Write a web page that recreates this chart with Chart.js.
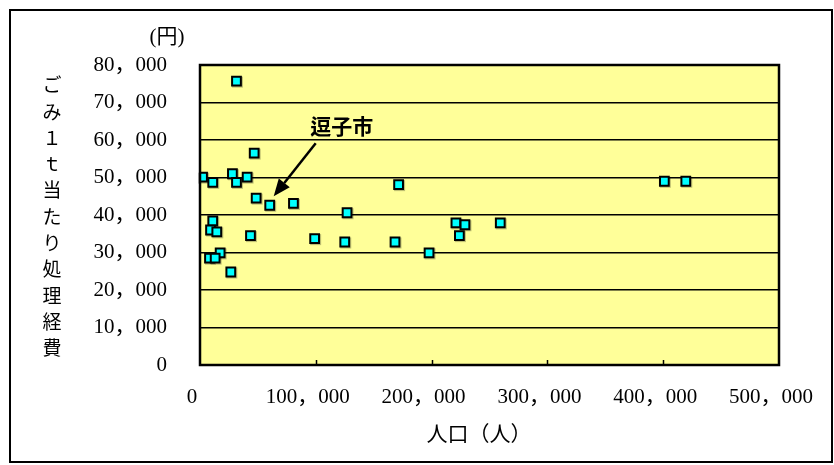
<!DOCTYPE html>
<html>
<head>
<meta charset="utf-8">
<script src="https://cdn.jsdelivr.net/npm/chart.js@4"></script>
<style>
  html, body { margin: 0; padding: 0; background: #fff; }
  #wrap { position: relative; width: 834px; height: 465px; }
</style>
</head>
<body>
<div id="wrap"><canvas id="c" width="834" height="465"></canvas></div>
<script>
// ---- data ----
const population = [31500, 46800, 2200, 11000, 28000, 31500, 40700, 48500, 60200, 80700,
                    127000, 11000, 9100, 14500, 43600, 99000, 125000, 17400, 8200, 13100,
                    26600, 171500, 221000, 228800, 259300, 224000, 168400, 197800, 401000, 419500];
const costPerTon = [75700, 56500, 50100, 48700, 51000, 48700, 50100, 44500, 42600, 43100,
                    40600, 38400, 36000, 35500, 34500, 33700, 32800, 29900, 28500, 28500,
                    24800, 48100, 37900, 37400, 37900, 34500, 32800, 29900, 49000, 49000];
const highlightIndex = 8;            // 逗子市
const highlightLabel = '逗子市';
const xTickValues = [0, 100000, 200000, 300000, 400000, 500000];
const yTickValues = [0, 10000, 20000, 30000, 40000, 50000, 60000, 70000, 80000];
const yTitleChars = ['ご','み','１','ｔ','当','た','り','処','理','経','費'];
const yUnit = '(円)';
const xTitle = '人口（人）';

const fmt = v => {
  const s = String(v);
  return s.replace(/\B(?=(\d{3})+(?!\d))/g, '，');
};

const points = population.map((p, i) => ({ x: p, y: costPerTon[i] }));
const tickFont = { family: "'Liberation Serif', 'Noto Sans CJK JP'", size: 21 };

const decor = {
  id: 'decor',
  beforeDraw(chart) {
    const { ctx, chartArea: a } = chart;
    ctx.save();
    ctx.fillStyle = '#fff';
    ctx.fillRect(0, 0, chart.width, chart.height);
    ctx.fillStyle = '#FFFF99';
    ctx.fillRect(a.left, a.top, a.right - a.left, a.bottom - a.top);
    ctx.restore();
  },
  beforeDatasetsDraw(chart) {
    // soft shadow beneath markers
    const { ctx } = chart;
    ctx.save();
    ctx.fillStyle = 'rgba(0,0,0,0.25)';
    chart.getDatasetMeta(0).data.forEach(el => {
      ctx.fillRect(el.x - 4.5, el.y - 4.5, 11, 11);
    });
    ctx.restore();
  },
  afterDatasetsDraw(chart) {
    const { ctx, chartArea: a, scales } = chart;
    ctx.save();
    // plot border
    ctx.strokeStyle = '#000';
    ctx.lineWidth = 2.5;
    ctx.strokeRect(a.left, a.top, a.right - a.left, a.bottom - a.top);
    // inward x tick marks
    ctx.lineWidth = 1.5;
    xTickValues.slice(1, -1).forEach(v => {
      const px = Math.round(scales.x.getPixelForValue(v)) + 0.5;
      ctx.beginPath();
      ctx.moveTo(px, a.bottom);
      ctx.lineTo(px, a.bottom - 5);
      ctx.stroke();
    });
    // outer frame
    ctx.lineWidth = 2;
    ctx.strokeRect(10, 10, 822, 452);
    // unit label
    ctx.fillStyle = '#000';
    ctx.font = "21px 'Liberation Serif', 'Noto Sans CJK JP'";
    ctx.textAlign = 'center';
    ctx.textBaseline = 'middle';
    ctx.fillText(yUnit, 167, 37);
    // vertical y title
    ctx.font = "19px 'Noto Sans CJK JP'";
    yTitleChars.forEach((ch, i) => ctx.fillText(ch, 52, 85 + i * 26.3));
    // x title
    ctx.font = "21px 'Noto Sans CJK JP'";
    ctx.fillText(xTitle, 479, 433);
    // annotation arrow
    const meta = chart.getDatasetMeta(0).data[highlightIndex];
    const px = meta.x, py = meta.y;
    const tipX = px + 4, tipY = py - 9;
    const tailX = px + 46, tailY = py - 62;
    const ang = Math.atan2(tipY - tailY, tipX - tailX);
    const headLen = 17, headW = 7;
    const bx = tipX - headLen * Math.cos(ang), by = tipY - headLen * Math.sin(ang);
    ctx.strokeStyle = '#000';
    ctx.lineWidth = 2.5;
    ctx.beginPath();
    ctx.moveTo(tailX, tailY);
    ctx.lineTo(bx, by);
    ctx.stroke();
    ctx.beginPath();
    ctx.moveTo(tipX, tipY);
    ctx.lineTo(bx + headW * Math.sin(ang), by - headW * Math.cos(ang));
    ctx.lineTo(bx - headW * Math.sin(ang), by + headW * Math.cos(ang));
    ctx.closePath();
    ctx.fill();
    ctx.font = "bold 21px 'Noto Sans CJK JP'";
    ctx.fillText(highlightLabel, px + 72, py - 79);
    ctx.restore();
  }
};

new Chart(document.getElementById('c'), {
  type: 'scatter',
  data: {
    datasets: [{
      data: points,
      pointStyle: 'rect',
      pointRadius: 6.2,
      pointHoverRadius: 6.2,
      backgroundColor: '#00FFFF',
      borderColor: '#000',
      borderWidth: 2
    }]
  },
  options: {
    responsive: false,
    animation: false,
    events: [],
    layout: { padding: { left: 0, top: 65, right: 55, bottom: 0 } },
    plugins: { legend: { display: false }, tooltip: { enabled: false } },
    scales: {
      x: {
        type: 'linear',
        min: 0, max: 500000,
        afterBuildTicks: s => { s.ticks = xTickValues.map(v => ({ value: v })); },
        afterFit: s => { s.height = 100; s.paddingLeft = 0; s.paddingRight = 0; },
        grid: { display: false, drawTicks: false },
        border: { display: false },
        ticks: { font: tickFont, color: '#000', padding: 20, labelOffset: -8,
                 maxRotation: 0, autoSkip: false, callback: v => fmt(v) }
      },
      y: {
        type: 'linear',
        min: 0, max: 80000,
        afterBuildTicks: s => { s.ticks = yTickValues.map(v => ({ value: v })); },
        afterFit: s => { s.width = 200; s.paddingTop = 0; s.paddingBottom = 0; },
        grid: { color: '#000', lineWidth: 1.5, drawTicks: false },
        border: { display: false },
        ticks: { font: tickFont, color: '#000', padding: 33, autoSkip: false,
                 callback: v => fmt(v) }
      }
    }
  },
  plugins: [decor]
});
</script>
</body>
</html>
